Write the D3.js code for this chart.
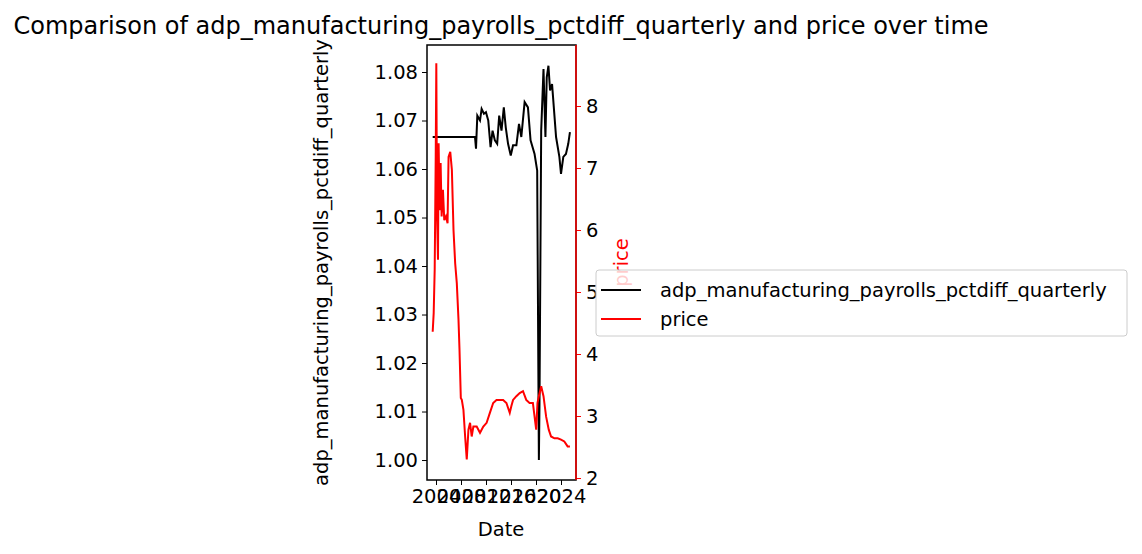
<!DOCTYPE html>
<html>
<head>
<script src="https://cdn.jsdelivr.net/npm/d3@7"></script>
<style>
  body { margin: 0; background: #fff; }
  text { font-family: "DejaVu Sans", sans-serif; }
</style>
</head>
<body>
<svg id="chart" width="1142" height="554"></svg>
<script>
// adp_manufacturing_payrolls_pctdiff_quarterly, [year, value]
var adpYears = [2003.47, 2010.24, 2010.40, 2010.61, 2011.04, 2011.30, 2011.67, 2011.99, 2012.36, 2012.73, 2013.05, 2013.42, 2013.79, 2014.11, 2014.48, 2014.85, 2015.16, 2015.53, 2015.96, 2016.33, 2016.86, 2017.28, 2017.65, 2018.18, 2018.71, 2019.13, 2019.77, 2020.19, 2020.46, 2020.56, 2020.83, 2021.20, 2021.51, 2021.72, 2021.99, 2022.25, 2022.57, 2023.21, 2023.74, 2024.00, 2024.37, 2024.79, 2025.16, 2025.43];
var adpValues = [1.0666, 1.0666, 1.0642, 1.0710, 1.0700, 1.0724, 1.0714, 1.0717, 1.0700, 1.0645, 1.0679, 1.0659, 1.0652, 1.0710, 1.0679, 1.0727, 1.0686, 1.0652, 1.0628, 1.0649, 1.0649, 1.0693, 1.0666, 1.0738, 1.0727, 1.0659, 1.0631, 1.0597, 1.0000, 1.0117, 1.0679, 1.0806, 1.0666, 1.0789, 1.0813, 1.0762, 1.0775, 1.0666, 1.0625, 1.0590, 1.0625, 1.0631, 1.0652, 1.0676];
// price, [year, value]
var priceYears = [2003.47, 2003.63, 2003.79, 2003.95, 2004.05, 2004.16, 2004.32, 2004.42, 2004.58, 2004.74, 2004.90, 2005.11, 2005.32, 2005.59, 2005.85, 2006.01, 2006.28, 2006.54, 2006.80, 2007.07, 2007.33, 2007.60, 2007.76, 2007.97, 2008.13, 2008.39, 2008.66, 2008.92, 2009.19, 2009.45, 2009.71, 2009.98, 2010.51, 2011.04, 2011.57, 2012.10, 2012.62, 2013.15, 2013.68, 2014.21, 2014.74, 2015.27, 2015.80, 2016.06, 2016.33, 2016.86, 2017.39, 2017.92, 2018.44, 2018.97, 2019.50, 2020.03, 2020.24, 2020.46, 2020.83, 2021.20, 2021.62, 2022.04, 2022.41, 2022.94, 2023.47, 2024.00, 2024.53, 2025.06, 2025.43];
var priceValues = [4.36, 4.66, 5.36, 7.13, 8.69, 6.27, 5.52, 7.40, 6.32, 7.08, 6.22, 6.65, 6.16, 6.22, 6.11, 7.18, 7.26, 6.97, 6.00, 5.46, 5.14, 4.55, 4.07, 3.29, 3.26, 3.10, 2.67, 2.30, 2.78, 2.89, 2.67, 2.83, 2.83, 2.73, 2.83, 2.89, 3.05, 3.21, 3.26, 3.26, 3.26, 3.21, 3.05, 3.16, 3.26, 3.32, 3.37, 3.40, 3.26, 3.21, 3.21, 2.78, 3.21, 3.32, 3.48, 3.32, 2.99, 2.78, 2.67, 2.64, 2.64, 2.62, 2.59, 2.51, 2.51];
var xTicks = [2004, 2008, 2012, 2016, 2020, 2024];
var leftTicks = [1.00, 1.01, 1.02, 1.03, 1.04, 1.05, 1.06, 1.07, 1.08];
var rightTicks = [2, 3, 4, 5, 6, 7, 8];

var svg = d3.select("#chart");
var L = 427, R = 576, T = 45, B = 480;
var fs = 19.5;

var x = d3.scaleLinear().domain([2002.56, 2026.4]).range([L, R]);
var yL = d3.scaleLinear().domain([0.99588, 1.08557]).range([B, T]);
var yR = d3.scaleLinear().domain([1.968, 8.984]).range([B, T]);

function line(xs, ys, sy) {
  return d3.line().x(function(d, i) { return x(xs[i]); }).y(function(d) { return sy(d); })(ys);
}

svg.append("path").attr("d", line(adpYears, adpValues, yL))
  .attr("fill", "none").attr("stroke", "#000").attr("stroke-width", 2);
svg.append("path").attr("d", line(priceYears, priceValues, yR))
  .attr("fill", "none").attr("stroke", "red").attr("stroke-width", 2);

var gx = svg.append("g").attr("transform", "translate(0," + B + ")")
  .call(d3.axisBottom(x).tickValues(xTicks).tickFormat(d3.format("d")).tickSize(5).tickPadding(4));
var gl = svg.append("g").attr("transform", "translate(" + L + ",0)")
  .call(d3.axisLeft(yL).tickValues(leftTicks).tickFormat(d3.format(".2f")).tickSize(5).tickPadding(4));
var gr = svg.append("g").attr("transform", "translate(" + R + ",0)")
  .call(d3.axisRight(yR).tickValues(rightTicks).tickFormat(d3.format("d")).tickSize(5).tickPadding(5));
[gx, gl, gr].forEach(function(g) {
  g.selectAll("text").attr("font-size", fs).attr("fill", "#000").style("font-family", "DejaVu Sans");
  g.select(".domain").remove();
});
gr.selectAll("line").attr("stroke", "red");

svg.append("rect").attr("x", L).attr("y", T).attr("width", R - L).attr("height", B - T)
  .attr("fill", "none").attr("stroke", "#000").attr("stroke-width", 1.5);
svg.append("line").attr("x1", R).attr("x2", R).attr("y1", T).attr("y2", B)
  .attr("stroke", "red").attr("stroke-width", 1.5);

svg.append("text").attr("x", 501).attr("y", 34).attr("text-anchor", "middle")
  .attr("font-size", 24).text("Comparison of adp_manufacturing_payrolls_pctdiff_quarterly and price over time");
svg.append("text").attr("x", 501).attr("y", 536).attr("text-anchor", "middle")
  .attr("font-size", fs).text("Date");
svg.append("text").attr("transform", "translate(328," + ((T + B) / 2) + ") rotate(-90)")
  .attr("text-anchor", "middle").attr("font-size", fs).text("adp_manufacturing_payrolls_pctdiff_quarterly");
svg.append("text").attr("transform", "translate(628," + ((T + B) / 2) + ") rotate(-90)")
  .attr("text-anchor", "middle").attr("font-size", fs).attr("fill", "red").text("price");

var lg = svg.append("g");
lg.append("rect").attr("x", 596).attr("y", 270).attr("width", 531).attr("height", 66).attr("rx", 3)
  .attr("fill", "rgba(255,255,255,0.8)").attr("stroke", "#ccc");
[["adp_manufacturing_payrolls_pctdiff_quarterly", "#000"], ["price", "red"]].forEach(function(d, i) {
  var yy = 290 + i * 29;
  lg.append("line").attr("x1", 601).attr("x2", 641).attr("y1", yy).attr("y2", yy)
    .attr("stroke", d[1]).attr("stroke-width", 2);
  lg.append("text").attr("x", 660).attr("y", yy + 7).attr("font-size", fs).text(d[0]);
});
</script>
</body>
</html>
